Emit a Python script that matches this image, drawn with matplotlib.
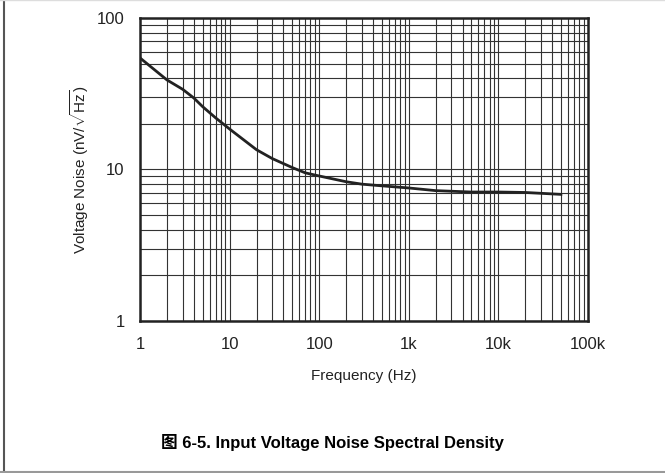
import matplotlib
matplotlib.use("Agg")
import matplotlib.pyplot as plt
from matplotlib.lines import Line2D
from matplotlib.ticker import FixedLocator, LogLocator, NullFormatter

plt.rcParams["font.family"] = ["Liberation Sans", "Noto Sans CJK SC"]
plt.rcParams["mathtext.fontset"] = "custom"
plt.rcParams["mathtext.rm"] = "Liberation Sans"

# Входное шумовое напряжение
freq_hz = [1, 2, 3, 4, 5, 7, 10, 20, 30, 50, 70, 100, 200, 300, 500,
           1000, 2000, 5000, 10000, 20000, 50000]
noise_nv = [54.5, 39, 33.8, 29.6, 26, 21.9, 18.5, 13.5, 11.8, 10.3, 9.5,
            9.06, 8.3, 8.0, 7.8, 7.55, 7.25, 7.1, 7.1, 7.05, 6.85]

x_ticks = [1, 10, 100, 1000, 10000, 100000]
x_labels = ["1", "10", "100", "1k", "10k", "100k"]
y_ticks = [1, 10, 100]
y_labels = ["1", "10", "100"]

fig = plt.figure(figsize=(6.65, 4.73), dpi=100)
ax = fig.add_axes([0.2105, 0.3214, 0.6735, 0.6406])

ax.plot(freq_hz, noise_nv, color="#222222", lw=2.0, zorder=3)

ax.set_xscale("log")
ax.set_yscale("log")
ax.set_xlim(1, 100000)
ax.set_ylim(1, 100)

ax.xaxis.set_major_locator(FixedLocator(x_ticks))
ax.set_xticklabels(x_labels)
ax.yaxis.set_major_locator(FixedLocator(y_ticks))
ax.set_yticklabels(y_labels)
ax.xaxis.set_minor_locator(LogLocator(base=10, subs=range(2, 10)))
ax.yaxis.set_minor_locator(LogLocator(base=10, subs=range(2, 10)))
ax.xaxis.set_minor_formatter(NullFormatter())
ax.yaxis.set_minor_formatter(NullFormatter())

ax.tick_params(which="both", length=0, labelsize=12, colors="#222222")
ax.tick_params(axis="x", pad=11.5)
ax.tick_params(axis="y", pad=11)

ax.grid(True, which="both", color="#333333", lw=0.8)
for s in ax.spines.values():
    s.set_linewidth(1.8)
    s.set_color("#222222")

ax.set_xlabel("Frequency (Hz)", fontsize=11, labelpad=12.5, color="#222222")
ax.set_ylabel(r"Voltage Noise (nV/$\sqrt{\mathrm{Hz}}$)", fontsize=11,
              labelpad=4, color="#222222")

# Подпись и рамка вокруг рисунка
fig.text(0.5, 1 - 442 / 473, "图 6-5. Input Voltage Noise Spectral Density",
         ha="center", va="center", fontsize=12, fontweight="bold")
fig.add_artist(Line2D([0.006, 0.006], [0, 1], transform=fig.transFigure,
                      color="#555555", lw=1.5))
fig.add_artist(Line2D([0, 1], [0.002, 0.002], transform=fig.transFigure,
                      color="#999999", lw=1.5))
fig.add_artist(Line2D([0, 1], [0.999, 0.999], transform=fig.transFigure,
                      color="#dddddd", lw=1.0))

fig.savefig("out.png", dpi=100)
plt.close(fig)
